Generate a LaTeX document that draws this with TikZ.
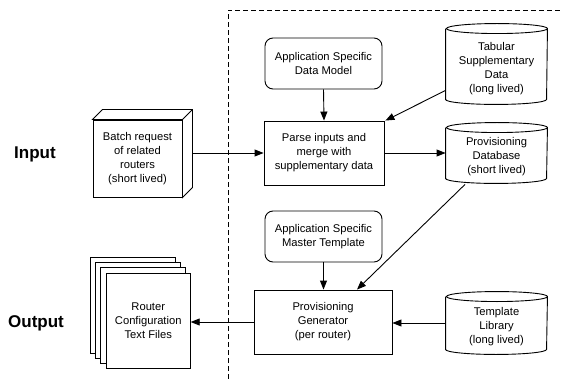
\documentclass[tikz,border=0pt]{standalone}
\usepackage{fontspec}
\setmainfont{Liberation Sans}
\usetikzlibrary{arrows.meta}
\begin{document}
\begin{tikzpicture}[x=1pt,y=-1pt,
  every path/.style={line width=0.9pt},
  txt/.style={font=\fontsize{11.2}{14}\selectfont, align=center, inner sep=0pt},
  plainbox/.style={draw, fill=white, txt, minimum width=#1, minimum height=64pt},
  roundbox/.style={draw, fill=white, txt, rounded corners=8pt, minimum width=117pt, minimum height=51pt},
  cylarea/.style={draw=none, minimum width=101pt, inner sep=0pt},
  frontbox/.style={draw, fill=white, txt, minimum width=89pt, minimum height=77pt},
  pagebox/.style={draw, fill=white, txt, minimum width=84pt, minimum height=95pt},
  biglabel/.style={font=\fontsize{17}{20}\selectfont\bfseries, inner sep=0pt},
  arr/.style={-{Triangle[length=9pt,width=7pt]}},
  sep/.style={dash pattern=on 5pt off 3pt, line width=0.8pt}
]
\useasboundingbox (0,0) rectangle (561,379);

% separator
\coordinate (dtop) at (228,10);
\coordinate (dbot) at (228,379);
\coordinate (dright) at (561,10);
\draw[sep] (dbot) -- (dtop) -- (dright);

% labels
\node[biglabel] (input) at (35,154) {Input};
\node[biglabel] (output) at (36,323) {Output};

% batch request 3D box
\node[frontbox, draw=none, fill=none] (batchbase) at (137.5,158.5) {};
\draw[fill=white] (batchbase.north west) -- ++(10pt,10pt) -- ([shift={(10pt,10pt)}]batchbase.north east)
  -- ([shift={(10pt,10pt)}]batchbase.south east) -- (batchbase.south east) -- (batchbase.north east) -- cycle;
\draw (batchbase.north east) -- ++(10pt,10pt);
\node[frontbox] (batch) at (batchbase.center) {Batch request\\of related\\routers\\(short lived)};
\coordinate (bback) at ([xshift=10pt]batch.east);

% stacked pages
\node[pagebox, draw=none, fill=none] (rf) at (148.25,320.5) {};
\foreach \i in {3,2,1}{
  \draw[fill=white] ([shift={(-5*\i pt,5*\i pt)}]rf.south west) rectangle ([shift={(-5*\i pt,5*\i pt)}]rf.north east);
}
\node[pagebox] (rffront) at (rf.center) {Router\\Configuration\\Text Files};

% center column
\node[roundbox] (dm) at (323.5,63.5) {Application Specific\\Data Model};
\node[plainbox=120pt] (parse) at (324,153) {Parse inputs and\\merge with\\supplementary data};
\node[roundbox] (mt) at (323.5,236.5) {Application Specific\\Master Template};
\node[plainbox=138pt] (gen) at (323,322) {Provisioning\\Generator\\(per router)};

% cylinders
\newcommand{\cylout}[1]{%
  \draw[fill=white] ([yshift=-5pt]#1.north west) -- ([yshift=5pt]#1.south west)
    arc[start angle=180,end angle=360,x radius=50.5pt,y radius=5pt]
    -- ([yshift=-5pt]#1.north east)
    arc[start angle=0,end angle=180,x radius=50.5pt,y radius=5pt]
    arc[start angle=180,end angle=360,x radius=50.5pt,y radius=5pt];}
\node[cylarea, minimum height=80pt] (tab) at (496.5,64) {};
\cylout{tab}
\node[txt] (tabtxt) at ([yshift=-4.5pt]tab.center) {Tabular\\Supplementary\\Data\\(long lived)};

\node[cylarea, minimum height=60pt] (pdb) at (496.5,153) {};
\cylout{pdb}
\node[txt] (pdbtxt) at ([yshift=-4pt]pdb.center) {Provisioning\\Database\\(short lived)};

\node[cylarea, minimum height=62pt] (tl) at (496.5,323) {};
\cylout{tl}
\node[txt] (tltxt) at ([yshift=-3.5pt]tl.center) {Template\\Library\\(long lived)};

% connectors
\draw[arr] (parse.west -| bback) -- (parse.west);
\draw[arr] (dm.south) -- (parse.north);
\draw[arr] ([yshift=14pt]tab.south west) -- ([xshift=1pt]parse.north east);
\draw[arr] (parse.east) -- (pdb.west);
\draw[arr] ([xshift=-31.5pt,yshift=-1pt]pdb.south) -- ([xshift=34pt]gen.north);
\draw[arr] (mt.south) -- (mt.south |- gen.north);
\draw[arr] (tl.west) -- (tl.west -| gen.east);
\draw[arr] (gen.west) -- (gen.west -| rffront.east);
\end{tikzpicture}
\end{document}
